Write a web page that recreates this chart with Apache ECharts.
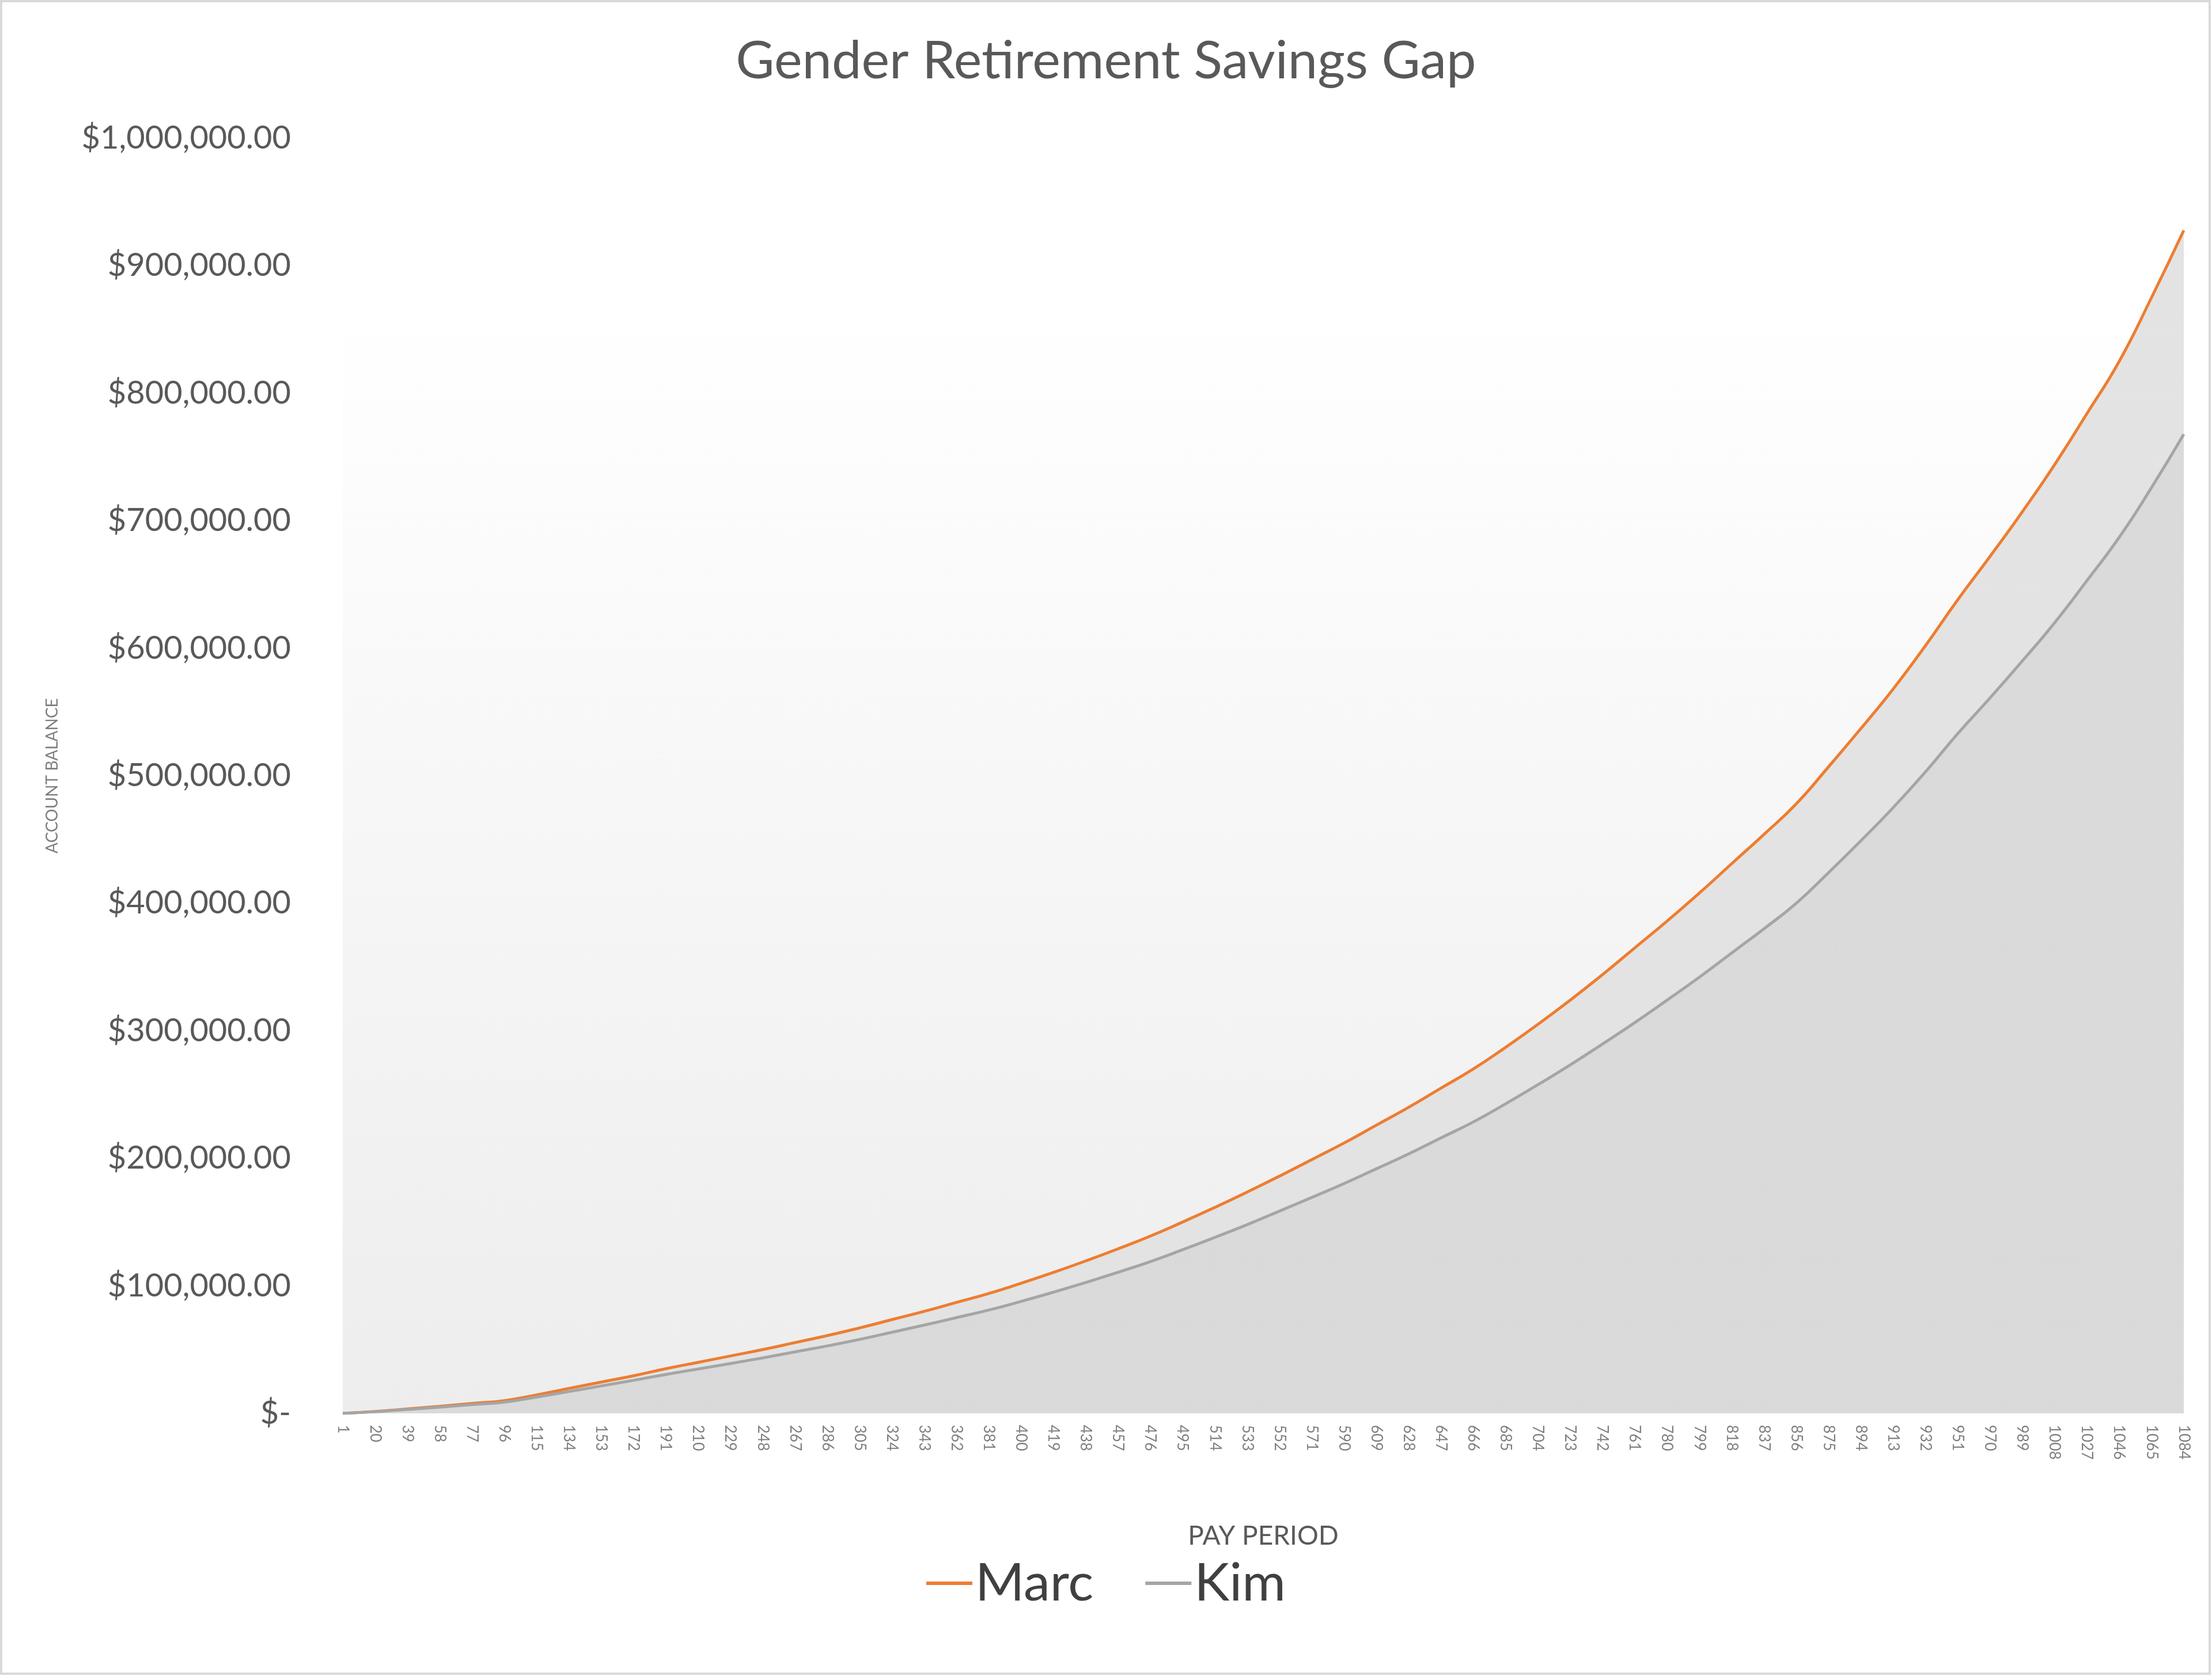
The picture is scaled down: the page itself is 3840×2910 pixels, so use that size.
<!DOCTYPE html>
<html><head><meta charset="utf-8">
<script src="https://cdn.jsdelivr.net/npm/echarts@6/dist/echarts.min.js"></script>
<style>html,body{margin:0;padding:0;background:#fff}#c{width:3840px;height:2910px}</style>
</head><body><div id="c"></div>
<script>
const periods = [1,20,39,58,77,96,115,134,153,172,191,210,229,248,267,286,305,324,343,362,381,400,419,438,457,476,495,514,533,552,571,590,609,628,647,666,685,704,723,742,761,780,799,818,837,856,875,894,913,932,951,970,989,1008,1027,1046,1065,1084];
const marc = [0,1500,3500,5500,7800,10000,14500,19500,24500,29500,35000,40000,45000,50000,55500,61000,67000,73500,80000,87000,94000,102000,110500,119500,129000,139000,150000,161500,173500,186000,199000,212000,226000,240000,255000,270000,287000,305000,324000,344000,365000,386000,408000,431000,454000,478000,507000,537000,568000,602000,638000,672000,707000,744000,784000,825000,875000,927745.77];
const kim = [0,1300,3100,4900,6900,8800,12800,17100,21500,25900,30500,34800,39100,43500,48200,52900,58000,63600,69200,75100,81000,87800,95000,102600,110600,119000,128300,138000,148000,158600,169300,180200,191800,203500,216000,228500,242700,257700,273200,289600,306400,324000,342000,361000,380000,400000,424000,449000,475000,503000,533000,561000,590000,620000,653000,687000,726000,767845.51];
const yTicks = ['$-','$100,000.00','$200,000.00','$300,000.00','$400,000.00','$500,000.00','$600,000.00','$700,000.00','$800,000.00','$900,000.00','$1,000,000.00'];
const F = 'Lato, "Noto Sans", sans-serif';
const fmt = v => '$' + v.toLocaleString('en-US',{minimumFractionDigits:2,maximumFractionDigits:2});
const lastLabel = (arr) => arr.map((v,i)=> i===arr.length-1 ? {value:v,label:{show:true,position:'top',align:'right',offset:[30,-40],formatter:p=>fmt(p.value),fontSize:58,color:'#404040',fontFamily:F}} : v);
const chart = echarts.init(document.getElementById('c'));
chart.setOption({
  backgroundColor:'#fff',
  animation:false,
  graphic:[{type:'rect',shape:{x:2,y:2,width:3834,height:2904},style:{fill:'none',stroke:'#d9d9d9',lineWidth:4}}],
  title:{text:'Gender Retirement Savings Gap',left:'center',top:55,textStyle:{fontSize:92,fontWeight:'normal',color:'#595959',fontFamily:F}},
  grid:{left:595,right:49,top:240,bottom:456,show:true,borderWidth:0,
    backgroundColor:{type:'linear',x:0,y:0,x2:0,y2:1,colorStops:[{offset:0,color:'#ffffff'},{offset:0.13,color:'#ffffff'},{offset:1,color:'#ededed'}]}},
  legend:{bottom:110,left:'center',itemWidth:80,itemHeight:6,itemGap:90,icon:'rect',textStyle:{fontSize:92,color:'#404040',fontFamily:F},data:['Marc','Kim']},
  xAxis:{type:'category',data:periods,boundaryGap:false,name:'PAY PERIOD',nameLocation:'middle',nameGap:190,
    nameTextStyle:{fontSize:46,color:'#595959',fontFamily:F},
    axisLine:{show:false},axisTick:{show:false},
    axisLabel:{interval:0,rotate:-90,fontSize:26,color:'#7f7f7f',fontFamily:F,margin:20}},
  yAxis:{type:'value',min:0,max:1000000,interval:100000,name:'ACCOUNT BALANCE',nameLocation:'middle',nameGap:490,
    nameTextStyle:{fontSize:28,color:'#7f7f7f',fontFamily:F},
    splitLine:{show:false},axisLine:{show:false},axisTick:{show:false},
    axisLabel:{fontSize:56,color:'#595959',fontFamily:F,margin:90,formatter:v=>yTicks[Math.round(v/100000)]}},
  series:[
    {name:'Marc',type:'line',data:lastLabel(marc),showSymbol:false,symbol:'none',smooth:true,
      lineStyle:{color:'#ed7d31',width:5},itemStyle:{color:'#ed7d31'},
      areaStyle:{color:{type:'linear',x:0,y:0,x2:0,y2:1,colorStops:[{offset:0,color:'#d0d0d0'},{offset:1,color:'#dcdcdc'}]},opacity:0.6}},
    {name:'Kim',type:'line',data:lastLabel(kim),showSymbol:false,symbol:'none',smooth:true,
      lineStyle:{color:'#a5a5a5',width:5},itemStyle:{color:'#a5a5a5'},
      areaStyle:{color:'#d6d6d6',opacity:0.7}}
  ]
});
</script></body></html>
